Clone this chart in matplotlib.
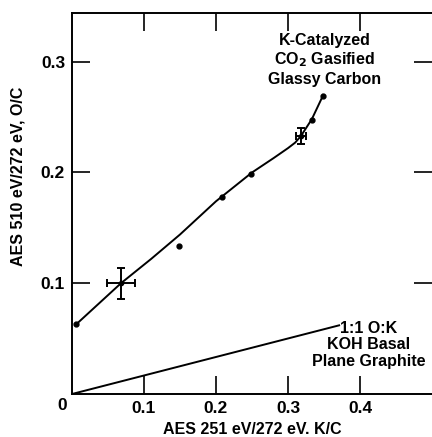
import matplotlib
matplotlib.use("Agg")
import matplotlib.pyplot as plt
import numpy as np

plt.rcParams['font.family'] = ['Liberation Sans', 'DejaVu Sans']
plt.rcParams['font.weight'] = 'bold'
plt.rcParams['mathtext.default'] = 'bf'

# Glassy carbon data points (K/C, O/C)
pts_x = [0.006, 0.149, 0.208, 0.249, 0.333, 0.349]
pts_y = [0.063, 0.134, 0.178, 0.199, 0.247, 0.269]

# Points with error bars
err_x = [0.068, 0.318]
err_y = [0.100, 0.233]
err_xe = [0.020, 0.007]
err_ye = [0.014, 0.007]

# Fitted curve through glassy carbon data
curve_x = [0.006, 0.068, 0.110, 0.150, 0.200, 0.250, 0.280, 0.300, 0.310, 0.318, 0.333, 0.349]
curve_y = [0.063, 0.100, 0.122, 0.144, 0.174, 0.200, 0.213, 0.222, 0.227, 0.233, 0.248, 0.270]

# 1:1 O:K reference line
ref_x = [0.0, 0.371]
ref_y = [0.0, 0.062]

xticks = [0.1, 0.2, 0.3, 0.4]
yticks = [0.1, 0.2, 0.3]

fig = plt.figure(figsize=(4.32, 4.37), dpi=100)
ax = fig.add_axes([72/432, 43/437, 1 - 72/432, (394 - 13)/437])

ax.plot(curve_x, curve_y, color='black', lw=1.4)
ax.plot(ref_x, ref_y, color='black', lw=1.4)
ax.plot(pts_x, pts_y, 'o', color='black', ms=3.5)
ax.errorbar(err_x, err_y, xerr=err_xe, yerr=err_ye, fmt='o', color='black',
            ms=3, elinewidth=1.4, capsize=3, capthick=1.4)

ax.set_xlim(0, 0.5)
ax.set_ylim(0, 0.344)
ax.set_xticks(xticks)
ax.set_yticks(yticks)
ax.set_xticklabels([f"{v:.1f}" for v in xticks], fontsize=12.5, fontweight='bold')
ax.set_yticklabels([f"{v:.1f}" for v in yticks], fontsize=12.5, fontweight='bold')
ax.tick_params(direction='in', length=13, width=1.2, top=True, right=True, pad=5)
ax.spines['right'].set_visible(False)
for s in ['left', 'bottom', 'top']:
    ax.spines[s].set_linewidth(1.4)

ax.annotate('0', xy=(0, 0), xycoords='data', xytext=(-10, -12),
            textcoords='offset pixels', ha='center', va='center',
            fontsize=12.5, fontweight='bold')

ax.text(0.351, 0.326, 'K-Catalyzed\nCO$_2$ Gasified\nGlassy Carbon', ha='center', va='top',
        fontsize=11.5, fontweight='bold', linespacing=1.2)
ax.text(0.412, 0.066, '1:1 O:K\nKOH Basal\nPlane Graphite', ha='center', va='top',
        fontsize=11.5, fontweight='bold', linespacing=1.12)

fig.text(252/432, 1 - 430/437, 'AES 251 eV/272 eV. K/C', ha='center', va='center',
         fontsize=11.5, fontweight='bold')
fig.text(18/432, 1 - 176/437, 'AES 510 eV/272 eV, O/C', ha='center', va='center',
         rotation=90, fontsize=11.5, fontweight='bold')

fig.savefig('out.png', dpi=100)
